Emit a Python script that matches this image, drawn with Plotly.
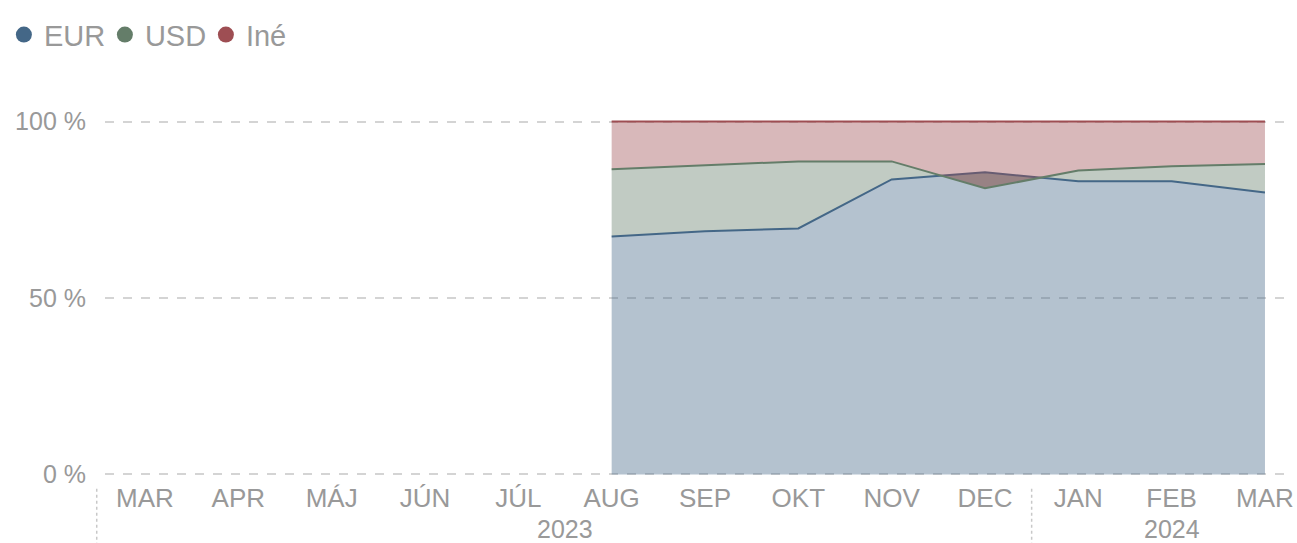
import plotly.graph_objects as go

# ---- data ----
months = ["MAR", "APR", "MÁJ", "JÚN", "JÚL", "AUG", "SEP", "OKT", "NOV", "DEC", "JAN", "FEB", "MAR"]
years = ["2023"] * 10 + ["2024"] * 3
data_start = 5  # first month with data (AUG 2023)

eur = [67.4, 68.9, 69.7, 83.6, 85.6, 83.1, 83.1, 79.9]
usd = [19.1, 18.7, 19.0, 5.1, -4.5, 3.0, 4.2, 8.1]
ine = [13.5, 12.4, 11.3, 11.3, 18.9, 13.9, 12.7, 12.0]

series = [("EUR", eur, (68, 103, 135)), ("USD", usd, (100, 125, 105)), ("Iné", ine, (158, 78, 83))]

x_idx = list(range(data_start, data_start + len(eur)))
GRAY = "#999999"
FONT = "Liberation Sans, Arial, sans-serif"

fig = go.Figure()
for name, vals, (r, g, b) in series:
    fig.add_trace(go.Scatter(
        x=x_idx, y=vals, name=name, stackgroup="one", mode="lines",
        line=dict(color=f"rgb({r},{g},{b})", width=2),
        fillcolor=f"rgba({r},{g},{b},0.4)", showlegend=False, hoverinfo="skip"))
# legend entries (circles)
for name, vals, (r, g, b) in series:
    fig.add_trace(go.Scatter(
        x=[None], y=[None], name=name, mode="markers",
        marker=dict(symbol="circle", size=20, color=f"rgb({r},{g},{b})"),
        showlegend=True))

# year labels centered under their month groups
annotations = []
for yr in sorted(set(years)):
    idxs = [i for i, y in enumerate(years) if y == yr]
    annotations.append(dict(
        x=sum(idxs) / len(idxs), y=0, xref="x", yref="paper",
        yanchor="top", yshift=-36, height=26, text=yr, showarrow=False,
        font=dict(size=25, color=GRAY, family=FONT)))

# dotted year separators
sep_line = dict(color="#c8c8c8", width=1.5, dash="dot")
shapes = [
    dict(type="line", xref="paper", yref="paper", x0=-0.007, x1=-0.007, y0=-0.03, y1=-0.2,
         line=sep_line),
]
for i in range(1, len(years)):
    if years[i] != years[i - 1]:
        shapes.append(dict(type="line", xref="x", yref="paper", x0=i - 0.5, x1=i - 0.5,
                           y0=-0.03, y1=-0.2, line=sep_line))

fig.update_layout(
    width=1297, height=543,
    margin=dict(l=105, r=10, t=118, b=65, autoexpand=False),
    paper_bgcolor="white", plot_bgcolor="white",
    font=dict(family=FONT, color=GRAY, size=25),
    showlegend=True,
    legend=dict(orientation="h", x=0.003, xref="container", xanchor="left",
                y=0.983, yref="container", yanchor="top", traceorder="normal",
                font=dict(size=29, color=GRAY, family=FONT),
                itemwidth=30, entrywidth=56, entrywidthmode="pixels",
                tracegroupgap=0, bgcolor="rgba(0,0,0,0)"),
    xaxis=dict(
        range=[-0.4286, 12.236], tickmode="array", automargin=False,
        tickvals=list(range(len(months))), ticktext=months,
        showgrid=False, zeroline=False, showline=False, ticks="",
        tickfont=dict(size=26, color=GRAY, family=FONT), ticklabelstandoff=2),
    yaxis=dict(
        range=[-1, 101], tickmode="array", tickvals=[0, 50, 100], automargin=False,
        ticktext=["0 %", "50 %", "100 %"], showgrid=True,
        gridcolor="#d4d4d4", griddash="dash", gridwidth=1.5,
        zeroline=False, showline=False, ticks="",
        tickfont=dict(size=25, color=GRAY, family=FONT), ticklabelstandoff=18),
    annotations=annotations, shapes=shapes,
)

fig.write_html(
    "out.html",
    config={"displayModeBar": False},
    post_script="document.body.style.margin='0';document.body.style.overflow='hidden';",
)
